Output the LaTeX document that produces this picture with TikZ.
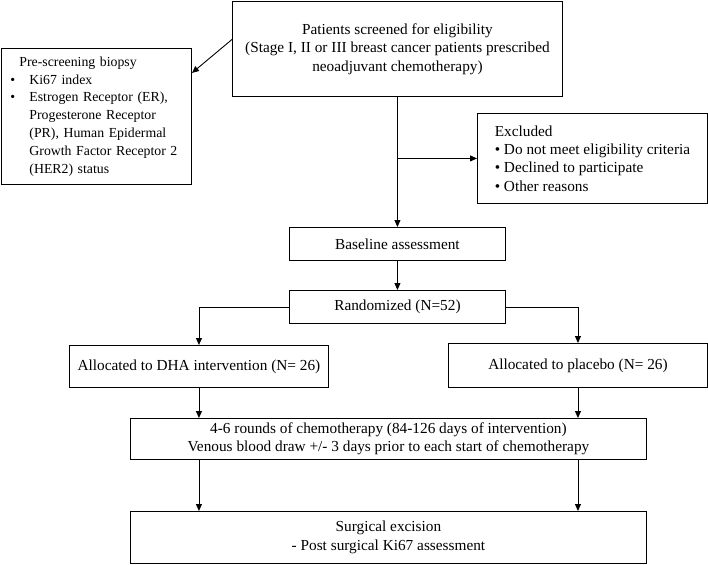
\documentclass[tikz,border=0pt]{standalone}
\usepackage{fontspec}
\setmainfont{Liberation Serif}
\usetikzlibrary{arrows.meta,calc}

\begin{document}
\begin{tikzpicture}
  [
    x=1pt, y=-1pt,
    block/.style =
      {draw, rectangle, align=center, anchor=north west, line width=0.9pt,
       font=\fontsize{15.3}{18.4}\selectfont, inner sep=2pt},
    oarrow/.style =
      {->, >={Triangle[length=7pt,width=6pt]}, line width=0.9pt}
  ]

\useasboundingbox (0,0) rectangle (708,564);

\node[block, minimum width=330, minimum height=95] (scr) at (232,1)
  {Patients screened for eligibility\\(Stage I, II or III breast cancer patients prescribed\\neoadjuvant chemotherapy)};

\node[block, align=left, text width=172pt, inner xsep=9pt, minimum height=136,
      font=\fontsize{13.8}{17.8}\selectfont] (pre) at (1,48)
  {\hspace*{9pt}Pre-screening biopsy\\
   \makebox[19pt][l]{\textbullet}Ki67 index\\
   \makebox[19pt][l]{\textbullet}\mbox{Estrogen Receptor (ER),}\\
   \hspace*{19pt}\mbox{Progesterone Receptor}\\
   \hspace*{19pt}\mbox{(PR), Human Epidermal}\\
   \hspace*{19pt}\mbox{Growth Factor Receptor 2}\\
   \hspace*{19pt}(HER2) status};

\node[block, align=left, minimum width=230, minimum height=90] (exc) at (477,113)
  {Excluded\\\textbullet\ Do not meet eligibility criteria\\\textbullet\ Declined to participate\\\textbullet\ Other reasons};

\node[block, minimum width=216, minimum height=33] (base) at (289,227) {Baseline assessment};
\node[block, minimum width=216, minimum height=33] (rand) at (289,290) {Randomized (N=52)};

\node[block, minimum width=259, minimum height=42] (dha) at (69,345) {Allocated to DHA intervention (N= 26)};
\node[block, minimum width=259, minimum height=44] (plac) at (448,343) {Allocated to placebo (N= 26)};

\node[block, minimum width=516, minimum height=41] (chemo) at (130,418)
  {4-6 rounds of chemotherapy (84-126 days of intervention)\\Venous blood draw +/- 3 days prior to each start of chemotherapy};
\node[block, minimum width=516, minimum height=52] (surg) at (130,511)
  {Surgical excision\\- Post surgical Ki67 assessment};

\draw [oarrow] ($(scr.west)+(0,-9.5)$) -- ($(pre.north east)+(0,25)$);
\draw [oarrow] (scr.south) -- (base.north);
\draw [oarrow] (scr.south |- exc.west) -- (exc.west);
\draw [oarrow] (base.south) -- (rand.north);
\draw [oarrow] (rand.west) -| (dha.north);
\draw [oarrow] (rand.east) -| (plac.north);
\draw [oarrow] (dha.south) -- (dha.south |- chemo.north);
\draw [oarrow] (plac.south) -- (plac.south |- chemo.north);
\draw [oarrow] (dha.south |- chemo.south) -- (dha.south |- surg.north);
\draw [oarrow] (plac.south |- chemo.south) -- (plac.south |- surg.north);

\end{tikzpicture}
\end{document}
